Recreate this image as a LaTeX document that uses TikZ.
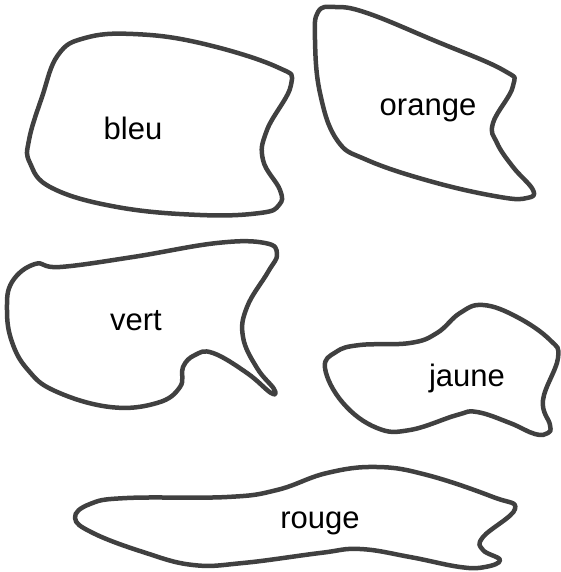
\documentclass[tikz,border=0pt]{standalone}
\usepackage{fontspec}
\setmainfont{Liberation Sans}
\usepackage{xcolor}
\usepackage{tikz}
\usetikzlibrary{positioning}

\definecolor{blobgray}{HTML}{404040}

\begin{document}
\begin{tikzpicture}[x=1pt, y=-1pt,
    blob/.style={draw=blobgray, line width=4.5pt, line join=round},
    label/.style={font=\fontsize{31}{36}\selectfont, inner sep=0pt}]
      \useasboundingbox (0,0) rectangle (561,572);

      % bleu
      \draw[blob] plot[smooth cycle, tension=0.7] coordinates {
        (58,55) (85,38) (133,34) (200,43) (277,67) (291,85)
        (267,130) (263,160) (280,190) (279,205) (260,213) (200,215)
        (117,207) (52,188) (30,163) (29,140) (42,97)};
      \node[label] (bleu) at (133,128) {bleu};

      % orange
      \draw[blob] plot[smooth cycle, tension=0.7] coordinates {
        (318,12) (335,7) (367,13) (433,40) (503,70) (513,86)
        (493,123) (497,143) (513,167) (533,190) (527,198) (500,197)
        (433,182) (367,160) (337,140) (320,93) (315,40)};
      \node[label] (orange) at (428,110) {orange};

      % vert
      \draw[blob] plot[smooth cycle, tension=0.7] coordinates {
        (35,264) (12,282) (7,310) (12,342) (28,370) (55,391) (110,407)
        (157,403) (180,387) (183,367) (195,355) (213,353) (247,373)
        (271,393) (274,389) (257,368) (243,337) (247,307) (268,272)
        (277,254) (265,243) (217,243) (133,257) (60,267)};
      \node[label] (vert) at (136,321) {vert};

      % jaune
      \draw[blob] plot[smooth cycle, tension=0.7] coordinates {
        (325,368) (336,352) (360,345) (410,343) (437,333) (460,313)
        (483,305) (517,317) (550,340) (558,358) (543,400)
        (550,425) (548,433) (535,434) (510,423) (477,412) (457,415)
        (410,430) (377,428) (343,403)};
      \node[label] (jaune) at (467,378) {jaune};

      % rouge
      \draw[blob] plot[smooth cycle, tension=0.7] coordinates {
        (75,518) (90,504) (127,498) (227,497) (277,490) (327,473)
        (377,467) (427,475) (493,497) (515,509) (483,537)
        (483,550) (500,560) (485,567) (460,567) (410,557) (360,549)
        (320,553) (243,563) (193,565) (143,552) (93,533)};
      \node[label] (rouge) at (320,523) {rouge};
\end{tikzpicture}
\end{document}
